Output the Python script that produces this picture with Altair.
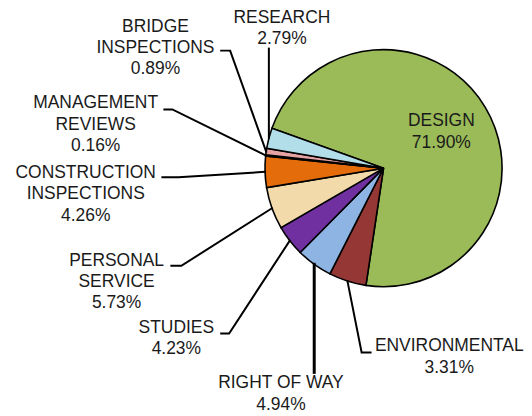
import math
import altair as alt
import pandas as pd

# ---------------- data ----------------
categories = ["DESIGN", "ENVIRONMENTAL", "RIGHT OF WAY", "STUDIES", "PERSONAL SERVICE",
              "CONSTRUCTION INSPECTIONS", "MANAGEMENT REVIEWS", "BRIDGE INSPECTIONS", "RESEARCH"]
# slice sizes as drawn in the picture (percent of the whole)
shares = [71.90, 5.10, 4.94, 4.23, 5.73, 4.26, 0.16, 0.89, 2.79]
# the percentage texts printed on the chart
pct_labels = ["71.90%", "3.31%", "4.94%", "4.23%", "5.73%", "4.26%", "0.16%", "0.89%", "2.79%"]
name_labels = ["DESIGN", "ENVIRONMENTAL", "RIGHT OF WAY", "STUDIES", "PERSONAL\nSERVICE",
               "CONSTRUCTION\nINSPECTIONS", "MANAGEMENT\nREVIEWS", "BRIDGE\nINSPECTIONS", "RESEARCH"]

# ---------------- style / layout ----------------
colors = ["#9BBB59", "#953735", "#8DB4E2", "#7030A0", "#F2DAAA",
          "#E46C0A", "#7F7F7F", "#E6A3A3", "#B2DEE9"]
VIEW_W, VIEW_H = 516, 400
R = 119                # pie radius in px
CX, CY = 377, 159      # pie centre inside the view, px
START_DEG = 289.7      # where the first slice begins (clockwise from 12 o'clock)
FONT = "Liberation Sans"
FS = 17.5
LH = 21.3


def ux(px):  # page px -> radius units
    return (px - 8 - CX) / R


def vy(py):
    return (CY - (py - 8)) / R


# label anchors (page px: centre x, middle of first line) and leader-line bends
label_layout = {
    "DESIGN": ((443, 120), None),
    "ENVIRONMENTAL": ((451, 346), [(363, 352), (372, 352)]),
    "RIGHT OF WAY": ((282, 383), ("v", 372)),
    "STUDIES": ((177, 327), [(230, 333), (222, 333)]),
    "PERSONAL SERVICE": ((117, 260), [(182, 265), (172, 265)]),
    "CONSTRUCTION INSPECTIONS": ((86, 172), [(179, 176), (163, 176)]),
    "MANAGEMENT REVIEWS": ((96, 102), [(173, 108), (165, 108)]),
    "BRIDGE INSPECTIONS": ((156, 25), [(231, 49), (222, 49)]),
    "RESEARCH": ((283, 16.5), ("v", 47)),
}

total = sum(shares)
arc_df = pd.DataFrame({"cat": categories, "share": shares, "idx": list(range(len(categories))),
                       "u": 0.0, "v": 0.0})

text_rows, line_rows = [], []
cum = 0.0
for i, (c, s) in enumerate(zip(categories, shares)):
    mid = math.radians(START_DEG + (cum + s / 2) / total * 360.0)
    cum += s
    (tx, ty), bend = label_layout[c]
    text_rows.append({"cat": c, "u": ux(tx), "v": vy(ty), "txt": name_labels[i] + "\n" + pct_labels[i]})
    if bend is None:
        continue
    eu, ev = math.sin(mid), math.cos(mid)
    pts = [(eu, ev)]
    if isinstance(bend, tuple) and bend[0] == "v":
        pts.append((eu, vy(bend[1])))
    else:
        pts += [(ux(x), vy(y)) for x, y in bend]
    for k, (pu, pv) in enumerate(pts):
        line_rows.append({"cat": c, "seq": k, "u": pu, "v": pv})

text_df = pd.DataFrame(text_rows)
line_df = pd.DataFrame(line_rows)

xs = alt.Scale(domain=[-CX / R, (VIEW_W - CX) / R], nice=False, zero=False)
ys = alt.Scale(domain=[-(VIEW_H - CY) / R, CY / R], nice=False, zero=False)

t0 = math.radians(START_DEG)
pie = alt.Chart(arc_df).mark_arc(outerRadius=R, stroke="black", strokeWidth=1.6).encode(
    x=alt.X("u:Q", scale=xs, axis=None),
    y=alt.Y("v:Q", scale=ys, axis=None),
    theta=alt.Theta("share:Q", stack=True, scale=alt.Scale(range=[t0, t0 + 2 * math.pi])),
    order=alt.Order("idx:Q", sort="ascending"),
    color=alt.Color("cat:N", scale=alt.Scale(domain=categories, range=colors), legend=None),
)

leaders = alt.Chart(line_df).mark_line(color="black", strokeCap="square").encode(
    x=alt.X("u:Q", scale=xs, axis=None),
    y=alt.Y("v:Q", scale=ys, axis=None),
    detail="cat:N",
    order="seq:Q",
    strokeWidth=alt.condition(alt.datum.cat == "RIGHT OF WAY", alt.value(3), alt.value(2)),
)

labels = alt.Chart(text_df).mark_text(
    font=FONT, fontSize=FS, lineHeight=LH, lineBreak="\n", align="center", baseline="middle",
    color="#1a1a1a",
).encode(
    x=alt.X("u:Q", scale=xs, axis=None),
    y=alt.Y("v:Q", scale=ys, axis=None),
    text="txt:N",
)

chart = alt.layer(pie, leaders, labels).properties(
    width=VIEW_W, height=VIEW_H, padding=0, background="white"
).configure_view(stroke=None)

chart.save("out.html", embed_options={"renderer": "svg", "actions": False})
